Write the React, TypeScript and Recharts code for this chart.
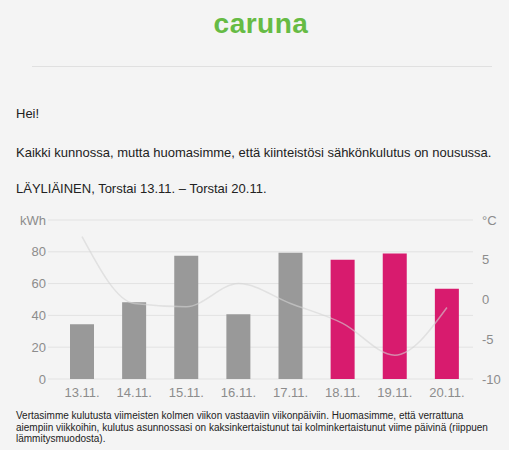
import { ComposedChart, Bar, Line, XAxis, YAxis, CartesianGrid, Cell } from 'recharts'

// ── data ─────────────────────────────────────────────────────────────────────

const days = ['13.11.', '14.11.', '15.11.', '16.11.', '17.11.', '18.11.', '19.11.', '20.11.']
const consumptionKwh = [34.5, 48.3, 77.5, 40.7, 79.4, 75, 79, 56.7]
const temperatureC = [7.9, -0.5, -0.9, 2.0, -0.5, -3.0, -7.0, -1.0]
const recentDays = [false, false, false, false, false, true, true, true]

const kwhTicks = [0, 20, 40, 60, 80, 100]
const tempTicks = [-10, -5, 0, 5, 10]

const chartData = days.map((day, i) => ({
  day,
  kwh: consumptionKwh[i],
  temp: temperatureC[i],
  recent: recentDays[i],
}))

// ── styles ───────────────────────────────────────────────────────────────────

const FONT = '"Liberation Sans", Arial, Helvetica, sans-serif'
const GRAY_BAR = '#999999'
const PINK_BAR = '#d81b6e'
const AXIS_TEXT = '#8c8c8c'
const GRID = '#e2e2e2'

const para: React.CSSProperties = {
  position: 'absolute',
  left: 16,
  margin: 0,
  fontSize: 13,
  color: '#222',
  whiteSpace: 'nowrap',
  lineHeight: '16px',
}

export default function App() {
  return (
    <div
      style={{
        position: 'absolute',
        left: 0,
        top: 0,
        width: 509,
        height: 450,
        background: '#f4f4f4',
        fontFamily: FONT,
        overflow: 'hidden',
      }}
    >
      {/* logo */}
      <div
        style={{
          position: 'absolute',
          left: 0,
          width: 522,
          top: 7,
          textAlign: 'center',
          fontSize: 28,
          fontWeight: 'bold',
          color: '#66bb44',
          lineHeight: '34px',
          letterSpacing: 0.5,
        }}
      >
        caruna
      </div>
      <div style={{ position: 'absolute', left: 32, top: 66, width: 460, height: 1, background: '#e0e0e0' }} />

      <p style={{ ...para, top: 106 }}>Hei!</p>
      <p style={{ ...para, top: 145 }}>
        Kaikki kunnossa, mutta huomasimme, että kiinteistösi sähkönkulutus on nousussa.
      </p>
      <p style={{ ...para, top: 181 }}>LÄYLIÄINEN, Torstai 13.11. – Torstai 20.11.</p>

      <div style={{ position: 'absolute', left: 0, top: 200 }}>
        <ComposedChart
          width={509}
          height={210}
          data={chartData}
          margin={{ top: 20, right: 0, bottom: 7, left: 0 }}
          barCategoryGap={0}
        >
          <CartesianGrid vertical={false} stroke={GRID} yAxisId="kwh" />
          <XAxis
            dataKey="day"
            axisLine={false}
            tickLine={false}
            tickSize={0}
            tickMargin={9}
            height={24}
            tick={{ fill: AXIS_TEXT, fontSize: 13, fontFamily: FONT }}
            interval={0}
          />
          <YAxis
            yAxisId="kwh"
            width={56}
            domain={[0, 100]}
            ticks={kwhTicks}
            axisLine={false}
            tickLine={{ stroke: GRID }}
            tickSize={8}
            tickMargin={2}
            tickFormatter={(v: number) => (v === 100 ? 'kWh' : String(v))}
            tick={{ fill: AXIS_TEXT, fontSize: 13, fontFamily: FONT }}
          />
          <YAxis
            yAxisId="temp"
            orientation="right"
            width={36}
            domain={[-10, 10]}
            ticks={tempTicks}
            axisLine={false}
            tickLine={false}
            tickSize={0}
            tickMargin={9}
            tickFormatter={(v: number) => (v === 10 ? '°C' : String(v))}
            tick={{ fill: AXIS_TEXT, fontSize: 13, fontFamily: FONT, textAnchor: 'start' }}
          />
          <Bar yAxisId="kwh" dataKey="kwh" barSize={24} isAnimationActive={false}>
            {chartData.map((d, i) => (
              <Cell key={i} fill={d.recent ? PINK_BAR : GRAY_BAR} />
            ))}
          </Bar>
          <Line
            yAxisId="temp"
            dataKey="temp"
            type="monotone"
            stroke="#d4d4d4"
            strokeOpacity={0.6}
            strokeWidth={1.5}
            dot={false}
            activeDot={false}
            isAnimationActive={false}
          />
        </ComposedChart>
      </div>

      <div
        style={{
          position: 'absolute',
          left: 16,
          top: 410,
          fontSize: 10,
          lineHeight: '11.5px',
          color: '#222',
          whiteSpace: 'nowrap',
        }}
      >
        Vertasimme kulutusta viimeisten kolmen viikon vastaaviin viikonpäiviin. Huomasimme, että verrattuna
        <br />
        aiempiin viikkoihin, kulutus asunnossasi on kaksinkertaistunut tai kolminkertaistunut viime päivinä (riippuen
        <br />
        lämmitysmuodosta).
      </div>
    </div>
  )
}
